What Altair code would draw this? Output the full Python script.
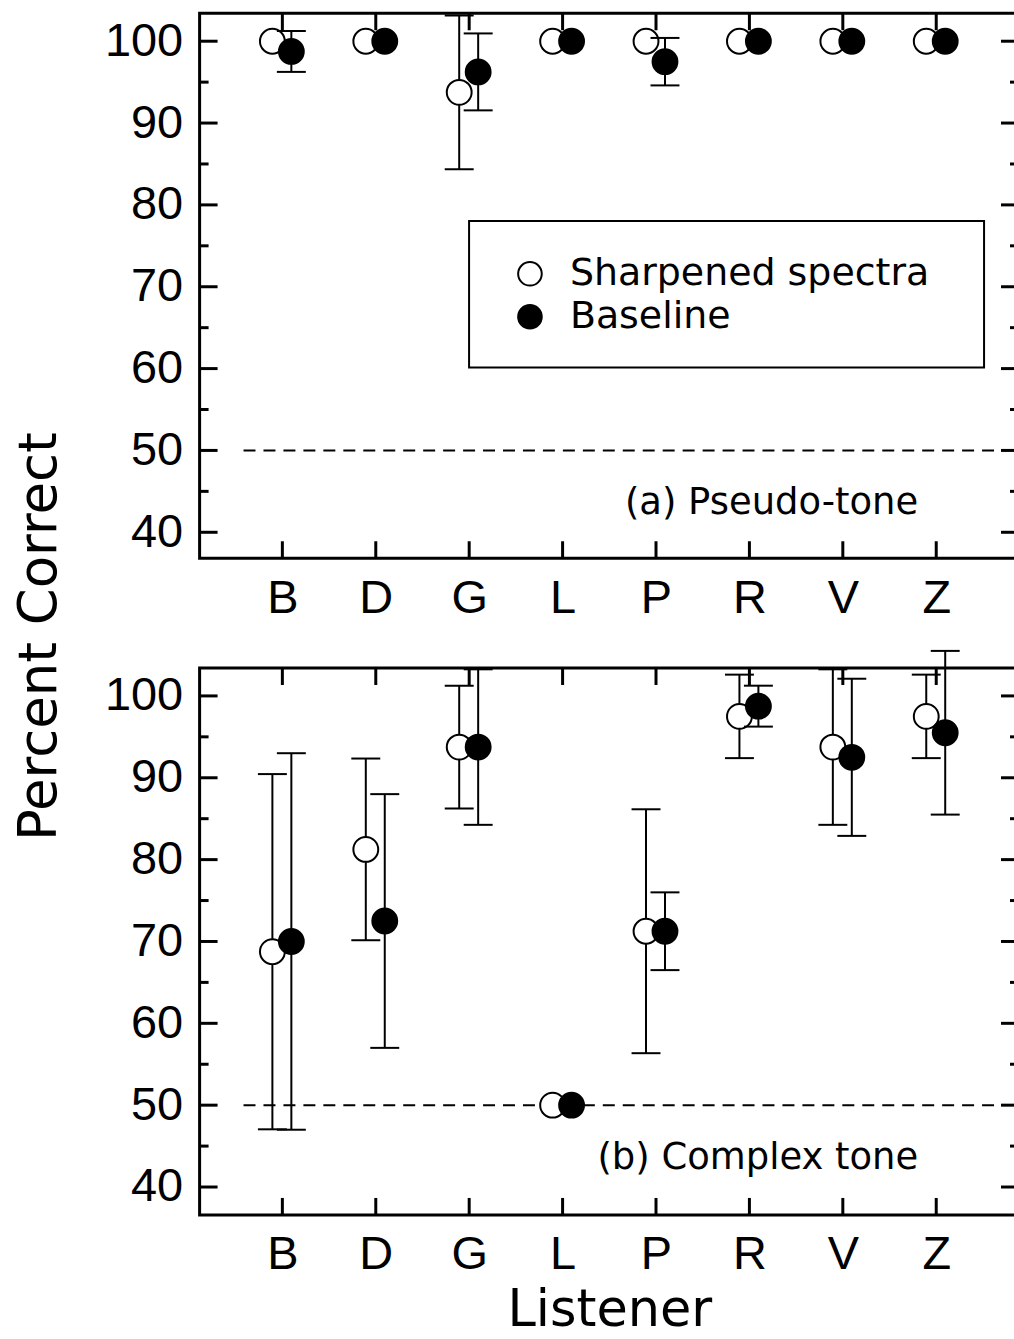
import altair as alt
import pandas as pd

# Listeners and the two listening conditions
listeners = ["B", "D", "G", "L", "P", "R", "V", "Z"]
conditions = ["Sharpened spectra", "Baseline"]

# (a) Pseudo-tone: mean percent correct and standard deviation per listener
pseudo_sharp_mean = [100, 100, 93.75, 100, 100, 100, 100, 100]
pseudo_sharp_sd = [0, 0, 9.4, 0, 0, 0, 0, 0]
pseudo_base_mean = [98.75, 100, 96.25, 100, 97.5, 100, 100, 100]
pseudo_base_sd = [2.5, 0, 4.7, 0, 2.9, 0, 0, 0]

# (b) Complex tone
complex_sharp_mean = [68.75, 81.25, 93.75, 50, 71.25, 97.5, 93.75, 97.5]
complex_sharp_sd = [21.7, 11.1, 7.5, 0, 14.9, 5.1, 9.5, 5.1]
complex_base_mean = [70, 72.5, 93.75, 50, 71.25, 98.75, 92.5, 95.5]
complex_base_sd = [23, 15.5, 9.5, 0, 4.75, 2.5, 9.6, 10]

y_major = [40, 50, 60, 70, 80, 90, 100]
y_minor = [45, 55, 65, 75, 85, 95]
chance_level = [50]

FONT = "DejaVu Sans"
TICK_FONT = "Liberation Sans"
W = 821
H_TOP = 546
H_BOT = 548
x_scale = alt.Scale(type="point", domain=listeners, padding=0.886)


def build_frame(sharp_mean, sharp_sd, base_mean, base_sd):
    rows = []
    for cond, means, sds in ((conditions[0], sharp_mean, sharp_sd),
                             (conditions[1], base_mean, base_sd)):
        for name, m, s in zip(listeners, means, sds):
            rows.append({"listener": name, "condition": cond, "mean": m,
                         "sd": s, "lo": m - s, "hi": m + s})
    return pd.DataFrame(rows)


def panel(df, height, y_domain, label, y_title=None, x_title=None, legend=False):
    y_scale = alt.Scale(domain=y_domain, nice=False, zero=False)

    x_axis_kw = dict(labelFont=TICK_FONT, labelFontSize=47, labelPadding=17,
                     labelAngle=0)
    if x_title:
        x_axis_kw.update(title=x_title, titleFont=FONT, titleFontSize=51,
                         titleY=111, titleBaseline="alphabetic")
    else:
        x_axis_kw["title"] = None

    y_axis_kw = dict(values=y_major, labelFont=TICK_FONT, labelFontSize=47,
                     labelPadding=17)
    if y_title:
        y_axis_kw.update(title=y_title, titleFont=FONT, titleFontSize=53,
                         titleX=-160, titleY=-32, titleAngle=270,
                         titleAlign="center", titleBaseline="middle")
    else:
        y_axis_kw["title"] = None

    x_axis = alt.Axis(**x_axis_kw)
    y_axis = alt.Axis(**y_axis_kw)

    def X():
        return alt.X("listener:N", scale=x_scale, axis=x_axis)

    def Y(field):
        return alt.Y(f"{field}:Q", scale=y_scale, axis=y_axis)

    layers = []

    # inward-pointing ticks on all four sides
    cats = alt.Chart(pd.DataFrame({"listener": listeners}))
    layers.append(cats.mark_rule(color="black", strokeWidth=3)
                  .encode(x=X(), y=alt.value(0), y2=alt.value(17)))
    layers.append(cats.mark_rule(color="black", strokeWidth=3)
                  .encode(x=X(), y=alt.value(height), y2=alt.value(height - 17)))
    major = alt.Chart(pd.DataFrame({"v": y_major}))
    minor = alt.Chart(pd.DataFrame({"v": y_minor}))
    for src, length in ((major, 18), (minor, 9)):
        layers.append(src.mark_rule(color="black", strokeWidth=3)
                      .encode(y=Y("v"), x=alt.value(0), x2=alt.value(length)))
        layers.append(src.mark_rule(color="black", strokeWidth=3)
                      .encode(y=Y("v"), x=alt.value(W), x2=alt.value(W - length)))

    # chance level
    layers.append(
        alt.Chart(pd.DataFrame({"level": chance_level}))
        .mark_rule(color="black", strokeWidth=2, strokeDash=[12, 8])
        .encode(y=Y("level"), x=alt.value(44), x2=alt.value(804))
    )

    base = alt.Chart(df)
    for cond, fill, dx in ((conditions[0], "white", -10), (conditions[1], "black", 9)):
        sub = base.transform_filter(alt.datum.condition == cond)
        bars = sub.transform_filter(alt.datum.sd > 0)
        layers.append(
            bars.mark_rule(color="black", strokeWidth=2, xOffset=dx)
            .encode(x=X(), y=Y("lo"), y2="hi:Q")
        )
        for end in ("lo", "hi"):
            layers.append(
                bars.mark_tick(orient="horizontal", size=29, thickness=2,
                               color="black", opacity=1, xOffset=dx)
                .encode(x=X(), y=Y(end))
            )
        layers.append(
            sub.mark_point(shape="circle", filled=True, size=620, fill=fill,
                           stroke="black", strokeWidth=2, opacity=1, xOffset=dx)
            .encode(x=X(), y=Y("mean"))
        )

    # panel label
    layers.append(
        alt.Chart(pd.DataFrame({"t": [label]}))
        .mark_text(font=FONT, fontSize=37, align="right", baseline="middle",
                   color="black")
        .encode(text="t:N", x=alt.value(720), y=alt.value(491))
    )

    if legend:
        layers.append(
            alt.Chart(pd.DataFrame({"k": [0]}))
            .mark_rect(fill="white", stroke="black", strokeWidth=2)
            .encode(x=alt.value(270), x2=alt.value(786),
                    y=alt.value(208), y2=alt.value(355))
        )
        for cond, fill, ypix in ((conditions[0], "white", 261), (conditions[1], "black", 304)):
            entry = alt.Chart(pd.DataFrame({"condition": [cond]}))
            layers.append(
                entry.mark_point(shape="circle", filled=True, size=560, fill=fill,
                                 stroke="black", strokeWidth=2, opacity=1)
                .encode(x=alt.value(331), y=alt.value(ypix))
            )
            layers.append(
                entry.mark_text(font=FONT, fontSize=38, align="left",
                                baseline="middle", color="black")
                .encode(text="condition:N", x=alt.value(371), y=alt.value(ypix))
            )

    return alt.layer(*layers).properties(width=W, height=height)


top = panel(build_frame(pseudo_sharp_mean, pseudo_sharp_sd, pseudo_base_mean, pseudo_base_sd),
            H_TOP, [36.83, 103.41], "(a) Pseudo-tone", legend=True)
bottom = panel(build_frame(complex_sharp_mean, complex_sharp_sd, complex_base_mean, complex_base_sd),
               H_BOT, [36.59, 103.41], "(b) Complex tone",
               y_title="Percent Correct", x_title="Listener")

# The right-hand frame edge falls just past the page width and is trimmed.
chart = (
    alt.vconcat(top, bottom, spacing=110, bounds="flush")
    .properties(padding={"left": 12, "top": 9, "right": -8, "bottom": 4})
    .configure_view(stroke="black", strokeWidth=3)
    .configure_axis(domain=False, ticks=False, grid=False, labelColor="black",
                    titleColor="black", titleFontWeight="normal")
)

chart.save("out.html", embed_options={"renderer": "svg", "actions": False})
